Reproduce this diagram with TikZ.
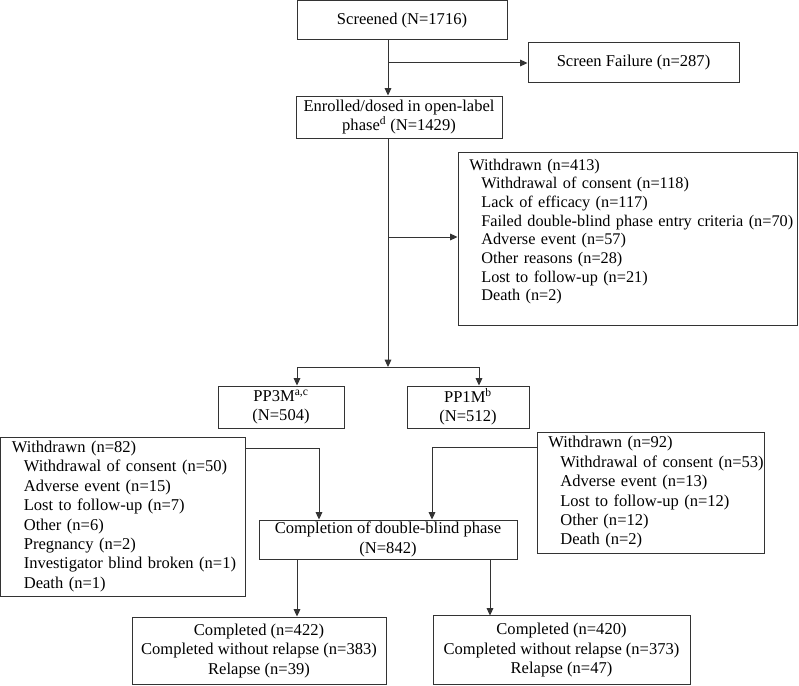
\documentclass[tikz,border=0pt]{standalone}
\usepackage{fontspec}
\setmainfont{Liberation Serif}
\usetikzlibrary{arrows.meta}

\tikzset{
  box/.style={draw=black!80, line width=0.75pt, inner sep=0pt, align=center},
  listbox/.style={box, align=left},
  flow/.style={draw=black!80, line width=0.75pt, -{Triangle[length=5.5pt,width=5pt]}},
  link/.style={draw=black!80, line width=0.75pt},
}
\newcommand{\heading}{\hspace*{8.5pt}}
\newcommand{\reason}{\hspace*{17.5pt}}

\begin{document}
\begin{tikzpicture}[x=0.75pt, y=-0.75pt,
    every node/.style={font=\fontsize{12.4pt}{14.55pt}\selectfont}]
  \useasboundingbox (0,0) rectangle (799,685);

  % open-label phase
  \node[box, minimum width=157.5pt, minimum height=29.6pt] (screened) at (402,20.25) {Screened (N=1716)};
  \node[box, minimum width=158.25pt, minimum height=30pt] (fail) at (633.5,63) {Screen Failure (n=287)};
  \node[box, minimum width=154.5pt, minimum height=31.5pt] (enrolled) at (399,117)
    {Enrolled/dosed in open-label\\phase\textsuperscript{d} (N=1429)};
  \node[listbox, minimum height=129.75pt, text width=254.25pt,
        font=\fontsize{12.2pt}{14pt}\selectfont] (wd413) at (627.5,238.5)
    {\heading Withdrawn (n=413)\\
     \reason Withdrawal of consent (n=118)\\
     \reason Lack of efficacy (n=117)\\
     \reason\mbox{Failed double-blind phase entry criteria (n=70)}\\
     \reason Adverse event (n=57)\\
     \reason Other reasons (n=28)\\
     \reason Lost to follow-up (n=21)\\
     \reason Death (n=2)\rule[-13pt]{0pt}{13pt}};

  % double-blind phase
  \node[box, minimum width=94.5pt, minimum height=31.5pt] (pp3m) at (281,407) {PP3M\textsuperscript{a,c}\\(N=504)};
  \node[box, minimum width=91.5pt, minimum height=31.5pt] (pp1m) at (468,407) {PP1M\textsuperscript{b}\\(N=512)};
  \node[listbox, minimum height=119.25pt, text width=183.4pt] (wd82) at (122.75,516.5)
    {\heading Withdrawn (n=82)\\
     \reason Withdrawal of consent (n=50)\\
     \reason Adverse event (n=15)\\
     \reason Lost to follow-up (n=7)\\
     \reason Other (n=6)\\
     \reason Pregnancy (n=2)\\
     \reason Investigator blind broken (n=1)\\
     \reason Death (n=1)};
  \node[listbox, minimum height=90.75pt, text width=170.25pt] (wd92) at (650.5,492.5)
    {\heading Withdrawn (n=92)\\
     \reason Withdrawal of consent (n=53)\\
     \reason Adverse event (n=13)\\
     \reason Lost to follow-up (n=12)\\
     \reason Other (n=12)\\
     \reason Death (n=2)};
  \node[box, minimum width=193.5pt, minimum height=29.25pt] (completion) at (388,539.5)
    {Completion of double-blind phase\\(N=842)};
  \node[box, minimum width=190.5pt, minimum height=50.6pt] (done3) at (259,650.75)
    {Completed (n=422)\\Completed without relapse (n=383)\\Relapse (n=39)};
  \node[box, minimum width=192.75pt, minimum height=51.4pt] (done1) at (561.5,650.25)
    {Completed (n=420)\\Completed without relapse (n=373)\\Relapse (n=47)};

  % branch points
  \coordinate (trunk) at (388,0);
  \coordinate (split) at (388,367);
  \coordinate (pp3x) at (297,0);
  \coordinate (pp1x) at (479,0);
  \coordinate (out1) at (490,0);
  \coordinate (join3) at (319,448);
  \coordinate (join1) at (432,447);

  % connectors
  \draw[flow] (screened.south -| trunk) -- (enrolled.north -| trunk);
  \draw[flow] (trunk |- fail) -- (fail.west);
  \draw[flow] (enrolled.south -| trunk) -- (split);
  \draw[flow] (trunk |- 0,237) -- (wd413.west |- 0,237);
  \draw[link] (split -| pp3x) -- (split -| pp1x);
  \draw[flow] (split -| pp3x) -- (pp3m.north -| pp3x);
  \draw[flow] (split -| pp1x) -- (pp1m.north -| pp1x);
  \draw[flow] (join3 -| wd82.east) -- (join3) -- (completion.north -| join3);
  \draw[flow] (join1 -| wd92.west) -- (join1) -- (completion.north -| join1);
  \draw[flow] (completion.south -| pp3x) -- (done3.north -| pp3x);
  \draw[flow] (completion.south -| out1) -- (done1.north -| out1);
\end{tikzpicture}
\end{document}
